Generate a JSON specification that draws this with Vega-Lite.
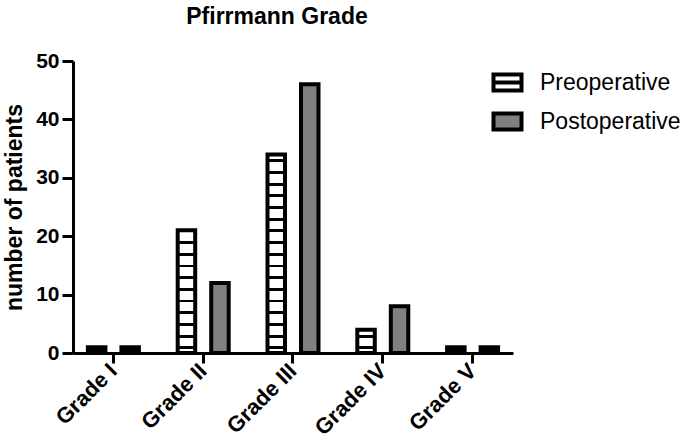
{
  "$schema": "https://vega.github.io/schema/vega-lite/v6.json",
  "width": 440,
  "height": 292,
  "autosize": "none",
  "padding": {"left": 73, "top": 61, "right": 172, "bottom": 91},
  "background": "white",
  "title": {"text": "Pfirrmann Grade", "font": "Liberation Sans", "fontSize": 23, "fontWeight": "bold", "color": "black", "anchor": "middle", "frame": "group", "dx": -16, "offset": 21},
  "config": {"view": {"stroke": null}},
  "data": {"values": [
    {"grade": "Grade I", "period": "Preoperative", "patients": 1},
    {"grade": "Grade I", "period": "Postoperative", "patients": 1},
    {"grade": "Grade II", "period": "Preoperative", "patients": 21},
    {"grade": "Grade II", "period": "Postoperative", "patients": 12},
    {"grade": "Grade III", "period": "Preoperative", "patients": 34},
    {"grade": "Grade III", "period": "Postoperative", "patients": 46},
    {"grade": "Grade IV", "period": "Preoperative", "patients": 4},
    {"grade": "Grade IV", "period": "Postoperative", "patients": 8},
    {"grade": "Grade V", "period": "Preoperative", "patients": 1},
    {"grade": "Grade V", "period": "Postoperative", "patients": 1}
  ]},
  "mark": {"type": "bar", "stroke": "black", "strokeWidth": 4, "strokeJoin": "miter"},
  "encoding": {
    "x": {
      "field": "grade", "type": "nominal",
      "sort": ["Grade I", "Grade II", "Grade III", "Grade IV", "Grade V"],
      "scale": {"paddingInner": 0.1, "paddingOuter": 0},
      "axis": {
        "title": null, "grid": false,
        "domainWidth": 3, "domainColor": "black",
        "tickWidth": 3, "tickSize": 10, "tickColor": "black",
        "labelFont": "Liberation Sans", "labelFontWeight": "bold", "labelFontSize": 22, "labelColor": "black",
        "labelAngle": -45, "labelAlign": "right", "labelBaseline": "middle", "labelPadding": 4
      }
    },
    "xOffset": {
      "field": "period", "type": "nominal",
      "sort": ["Preoperative", "Postoperative"],
      "scale": {"paddingInner": 0.478, "paddingOuter": 0.445}
    },
    "y": {
      "field": "patients", "type": "quantitative",
      "scale": {"domain": [0, 50], "nice": false},
      "axis": {
        "title": "number of patients", "grid": false,
        "values": [0, 10, 20, 30, 40, 50],
        "domainWidth": 3, "domainColor": "black",
        "tickWidth": 3, "tickSize": 11, "tickColor": "black",
        "labelFont": "Liberation Sans", "labelFontWeight": "bold", "labelFontSize": 21, "labelColor": "black", "labelPadding": 3,
        "titleFont": "Liberation Sans", "titleFontWeight": "bold", "titleFontSize": 23, "titleColor": "black",
        "titleX": -52, "titleY": 146, "titleAngle": -90, "titleAlign": "center", "titleBaseline": "alphabetic"
      }
    },
    "fill": {
      "condition": [
        {"test": "datum.patients <= 1", "value": "black"},
        {"test": "datum.grade === 'Grade II' && datum.period === 'Preoperative'", "value": {"gradient": "linear", "x1": 0, "y1": 0, "x2": 0, "y2": 1, "stops": [
          {"offset": 0, "color": "white"},
          {"offset": 0.0881, "color": "white"}, {"offset": 0.0881, "color": "black"}, {"offset": 0.1119, "color": "black"}, {"offset": 0.1119, "color": "white"},
          {"offset": 0.1833, "color": "white"}, {"offset": 0.1833, "color": "black"}, {"offset": 0.2071, "color": "black"}, {"offset": 0.2071, "color": "white"},
          {"offset": 0.2786, "color": "white"}, {"offset": 0.2786, "color": "black"}, {"offset": 0.3024, "color": "black"}, {"offset": 0.3024, "color": "white"},
          {"offset": 0.3738, "color": "white"}, {"offset": 0.3738, "color": "black"}, {"offset": 0.3976, "color": "black"}, {"offset": 0.3976, "color": "white"},
          {"offset": 0.4690, "color": "white"}, {"offset": 0.4690, "color": "black"}, {"offset": 0.4929, "color": "black"}, {"offset": 0.4929, "color": "white"},
          {"offset": 0.5643, "color": "white"}, {"offset": 0.5643, "color": "black"}, {"offset": 0.5881, "color": "black"}, {"offset": 0.5881, "color": "white"},
          {"offset": 0.6595, "color": "white"}, {"offset": 0.6595, "color": "black"}, {"offset": 0.6833, "color": "black"}, {"offset": 0.6833, "color": "white"},
          {"offset": 0.7548, "color": "white"}, {"offset": 0.7548, "color": "black"}, {"offset": 0.7786, "color": "black"}, {"offset": 0.7786, "color": "white"},
          {"offset": 0.8500, "color": "white"}, {"offset": 0.8500, "color": "black"}, {"offset": 0.8738, "color": "black"}, {"offset": 0.8738, "color": "white"},
          {"offset": 0.9452, "color": "white"}, {"offset": 0.9452, "color": "black"}, {"offset": 0.9690, "color": "black"}, {"offset": 0.9690, "color": "white"},
          {"offset": 1, "color": "white"}
        ]}},
        {"test": "datum.grade === 'Grade III' && datum.period === 'Preoperative'", "value": {"gradient": "linear", "x1": 0, "y1": 0, "x2": 0, "y2": 1, "stops": [
          {"offset": 0, "color": "white"},
          {"offset": 0.0250, "color": "white"}, {"offset": 0.0250, "color": "black"}, {"offset": 0.0397, "color": "black"}, {"offset": 0.0397, "color": "white"},
          {"offset": 0.0838, "color": "white"}, {"offset": 0.0838, "color": "black"}, {"offset": 0.0985, "color": "black"}, {"offset": 0.0985, "color": "white"},
          {"offset": 0.1426, "color": "white"}, {"offset": 0.1426, "color": "black"}, {"offset": 0.1574, "color": "black"}, {"offset": 0.1574, "color": "white"},
          {"offset": 0.2015, "color": "white"}, {"offset": 0.2015, "color": "black"}, {"offset": 0.2162, "color": "black"}, {"offset": 0.2162, "color": "white"},
          {"offset": 0.2603, "color": "white"}, {"offset": 0.2603, "color": "black"}, {"offset": 0.2750, "color": "black"}, {"offset": 0.2750, "color": "white"},
          {"offset": 0.3191, "color": "white"}, {"offset": 0.3191, "color": "black"}, {"offset": 0.3338, "color": "black"}, {"offset": 0.3338, "color": "white"},
          {"offset": 0.3779, "color": "white"}, {"offset": 0.3779, "color": "black"}, {"offset": 0.3926, "color": "black"}, {"offset": 0.3926, "color": "white"},
          {"offset": 0.4368, "color": "white"}, {"offset": 0.4368, "color": "black"}, {"offset": 0.4515, "color": "black"}, {"offset": 0.4515, "color": "white"},
          {"offset": 0.4956, "color": "white"}, {"offset": 0.4956, "color": "black"}, {"offset": 0.5103, "color": "black"}, {"offset": 0.5103, "color": "white"},
          {"offset": 0.5544, "color": "white"}, {"offset": 0.5544, "color": "black"}, {"offset": 0.5691, "color": "black"}, {"offset": 0.5691, "color": "white"},
          {"offset": 0.6132, "color": "white"}, {"offset": 0.6132, "color": "black"}, {"offset": 0.6279, "color": "black"}, {"offset": 0.6279, "color": "white"},
          {"offset": 0.6721, "color": "white"}, {"offset": 0.6721, "color": "black"}, {"offset": 0.6868, "color": "black"}, {"offset": 0.6868, "color": "white"},
          {"offset": 0.7309, "color": "white"}, {"offset": 0.7309, "color": "black"}, {"offset": 0.7456, "color": "black"}, {"offset": 0.7456, "color": "white"},
          {"offset": 0.7897, "color": "white"}, {"offset": 0.7897, "color": "black"}, {"offset": 0.8044, "color": "black"}, {"offset": 0.8044, "color": "white"},
          {"offset": 0.8485, "color": "white"}, {"offset": 0.8485, "color": "black"}, {"offset": 0.8632, "color": "black"}, {"offset": 0.8632, "color": "white"},
          {"offset": 0.9074, "color": "white"}, {"offset": 0.9074, "color": "black"}, {"offset": 0.9221, "color": "black"}, {"offset": 0.9221, "color": "white"},
          {"offset": 0.9662, "color": "white"}, {"offset": 0.9662, "color": "black"}, {"offset": 0.9809, "color": "black"}, {"offset": 0.9809, "color": "white"},
          {"offset": 1, "color": "white"}
        ]}},
        {"test": "datum.grade === 'Grade IV' && datum.period === 'Preoperative'", "value": {"gradient": "linear", "x1": 0, "y1": 0, "x2": 0, "y2": 1, "stops": [
          {"offset": 0, "color": "white"},
          {"offset": 0.2125, "color": "white"}, {"offset": 0.2125, "color": "black"}, {"offset": 0.3375, "color": "black"}, {"offset": 0.3375, "color": "white"},
          {"offset": 0.7125, "color": "white"}, {"offset": 0.7125, "color": "black"}, {"offset": 0.8375, "color": "black"}, {"offset": 0.8375, "color": "white"},
          {"offset": 1, "color": "white"}
        ]}}
      ],
      "field": "period", "type": "nominal",
      "scale": {"domain": ["Preoperative", "Postoperative"], "range": ["white", "#808080"]},
      "legend": {
        "title": null, "orient": "none", "legendX": 423, "legendY": 10,
        "symbolType": "M-1.75,-1H1.75V1H-1.75Z", "symbolSize": 256,
        "symbolStrokeColor": "black", "symbolStrokeWidth": 4, "symbolOpacity": 1,
        "labelFont": "Liberation Sans", "labelFontSize": 23, "labelColor": "black", "labelOffset": 21,
        "rowPadding": 6,
        "encode": {"symbols": {"update": {"shape": {"signal": "datum.value === 'Preoperative' ? 'M-1.75,-1H1.75V1H-1.75Z M-1.75,0H1.75' : 'M-1.75,-1H1.75V1H-1.75Z'"}}}}
      }
    }
  }
}
